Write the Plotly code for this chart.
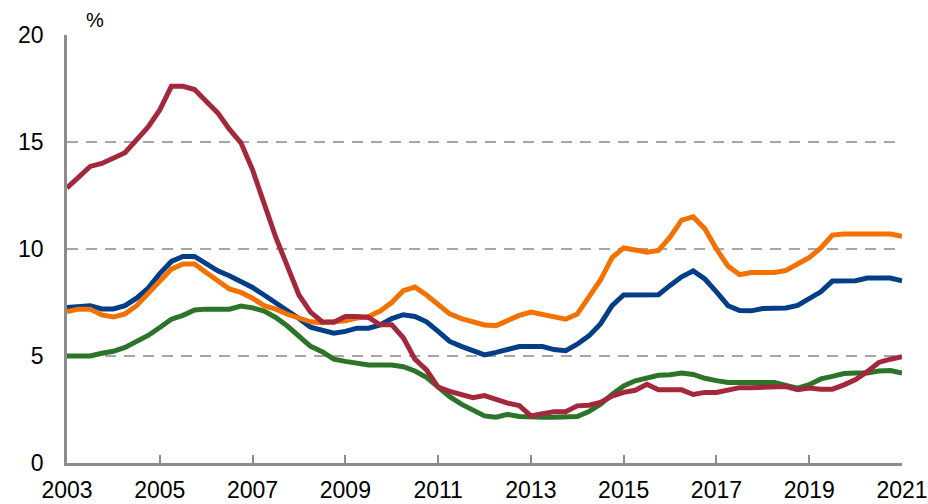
import plotly.graph_objects as go

# Quarterly observations, 2003Q1 .. 2021Q1
start_year = 2003
n_quarters = 73
years = [start_year + q / 4 for q in range(n_quarters)]

blue = [7.27, 7.3, 7.35, 7.2, 7.2, 7.35, 7.7, 8.17, 8.85, 9.42,
        9.65, 9.65, 9.34, 8.98, 8.75, 8.5, 8.2, 7.85, 7.5, 7.1,
        6.75, 6.35, 6.2, 6.07, 6.15, 6.3, 6.3, 6.45, 6.75, 6.93,
        6.85, 6.6, 6.15, 5.68, 5.45, 5.27, 5.05, 5.17, 5.3, 5.44,
        5.44, 5.44, 5.3, 5.25, 5.55, 5.94, 6.5, 7.35, 7.85, 7.86,
        7.86, 7.86, 8.3, 8.7, 8.98, 8.6, 8.0, 7.35, 7.12, 7.11,
        7.22, 7.22, 7.24, 7.36, 7.7, 8.0, 8.5, 8.51, 8.52, 8.64, 8.64, 8.64, 8.51]

green = [5.0, 5.0, 5.0, 5.13, 5.22, 5.4, 5.68, 5.96, 6.33, 6.72,
         6.9, 7.15, 7.19, 7.19, 7.19, 7.33, 7.25, 7.1, 6.8, 6.4,
         5.95, 5.45, 5.2, 4.85, 4.75, 4.65, 4.58, 4.58, 4.58, 4.5,
         4.3, 4.0, 3.55, 3.1, 2.75, 2.45, 2.2, 2.14, 2.27, 2.17,
         2.14, 2.14, 2.14, 2.14, 2.17, 2.4, 2.75, 3.2, 3.6, 3.84,
         3.95, 4.1, 4.12, 4.2, 4.14, 3.96, 3.85, 3.76, 3.76, 3.76,
         3.76, 3.76, 3.62, 3.5, 3.66, 3.93, 4.05, 4.18, 4.2, 4.2, 4.3, 4.32, 4.2]

orange = [7.08, 7.19, 7.19, 6.92, 6.82, 6.97, 7.35, 7.9, 8.5, 9.06,
          9.3, 9.3, 8.9, 8.48, 8.13, 7.97, 7.7, 7.35, 7.19, 6.95,
          6.75, 6.6, 6.56, 6.6, 6.65, 6.77, 6.85, 7.1, 7.5, 8.05,
          8.22, 7.85, 7.4, 6.97, 6.75, 6.6, 6.45, 6.42, 6.65, 6.9,
          7.05, 6.95, 6.85, 6.72, 6.96, 7.8, 8.55, 9.6, 10.05, 9.95,
          9.85, 9.93, 10.55, 11.35, 11.5, 10.95, 10.0, 9.2, 8.8, 8.9,
          8.9, 8.9, 9.0, 9.3, 9.6, 10.05, 10.65, 10.7, 10.7, 10.7, 10.7, 10.7, 10.59]

red = [12.85, 13.35, 13.86, 14.0, 14.25, 14.5, 15.1, 15.7, 16.5, 17.6,
       17.6, 17.45, 16.9, 16.36, 15.6, 14.96, 13.7, 12.1, 10.55, 9.2,
       7.85, 7.05, 6.6, 6.58, 6.85, 6.85, 6.8, 6.46, 6.46, 5.85,
       4.85, 4.35, 3.55, 3.35, 3.2, 3.05, 3.15, 2.95, 2.8, 2.68,
       2.2, 2.3, 2.4, 2.4, 2.67, 2.7, 2.83, 3.13, 3.3, 3.4,
       3.68, 3.42, 3.42, 3.42, 3.2, 3.3, 3.3, 3.42, 3.52, 3.52,
       3.52, 3.57, 3.57, 3.42, 3.5, 3.45, 3.45, 3.65, 3.9, 4.27, 4.7, 4.85, 4.97]

x_ticks = list(range(2003, 2022, 2))
y_ticks = [0, 5, 10, 15, 20]

series = [
    (blue, "#003f87"),
    (green, "#2b7429"),
    (orange, "#f47100"),
    (red, "#a3283b"),
]

fig = go.Figure()
for values, color in series:
    fig.add_trace(go.Scatter(
        x=years, y=values, mode="lines",
        line=dict(color=color, width=5),
        hoverinfo="skip", showlegend=False,
    ))

font_family = "Liberation Sans, Arial, sans-serif"

fig.update_layout(
    width=928, height=504,
    margin=dict(l=67, r=26, t=35, b=41),
    paper_bgcolor="white", plot_bgcolor="white",
    font=dict(family=font_family, color="black", size=23),
    xaxis=dict(
        range=[2003, 2021], automargin=False,
        tickmode="array", tickvals=x_ticks, ticktext=[str(v) for v in x_ticks],
        showgrid=False, zeroline=False,
        showline=True, linecolor="#8c8c8c", linewidth=2.5,
        ticks="inside", ticklen=8, tickwidth=2, tickcolor="#8c8c8c",
        ticklabelstandoff=5,
        tickfont=dict(size=23),
    ),
    yaxis=dict(
        range=[0, 20], automargin=False,
        tickmode="array", tickvals=y_ticks, ticktext=[str(v) for v in y_ticks],
        showgrid=True, gridcolor="#a6a6a6", gridwidth=2, griddash="11px,8px",
        zeroline=False,
        showline=True, linecolor="#8c8c8c", linewidth=2.5,
        ticks="", ticklabelstandoff=16,
        tickfont=dict(size=23),
    ),
    annotations=[dict(
        text="%", xref="paper", yref="paper",
        x=0.034, y=1.036, showarrow=False,
        font=dict(size=20, family=font_family, color="black"),
        xanchor="center", yanchor="middle",
    )],
)

fig.write_html("out.html", config={"displayModeBar": False})
